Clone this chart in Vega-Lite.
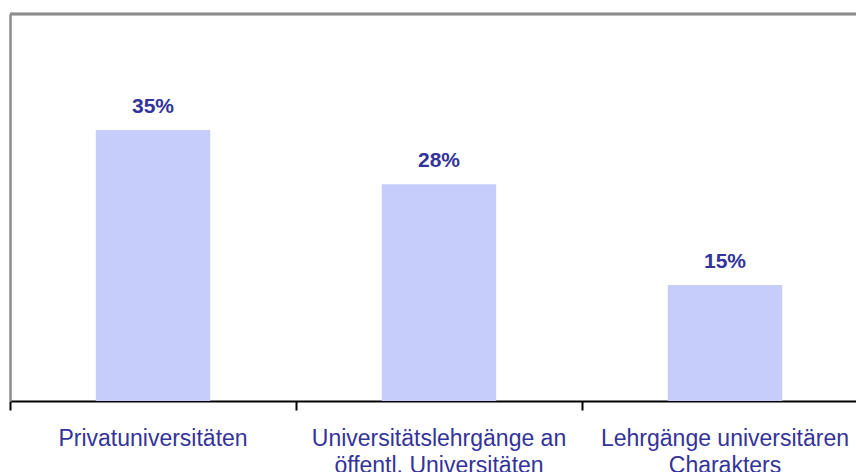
{
  "$schema": "https://vega.github.io/schema/vega-lite/v6.json",
  "width": 846,
  "height": 387,
  "autosize": "none",
  "padding": {"left": 10, "top": 14, "right": 0, "bottom": 71},
  "background": "white",
  "config": {"view": {"stroke": null}},
  "data": {"values": [
    {"kategorie": "Privatuniversitäten", "anteil": 0.35, "text": "35%"},
    {"kategorie": "Universitätslehrgänge an\nöffentl. Universitäten", "anteil": 0.28, "text": "28%"},
    {"kategorie": "Lehrgänge universitären\nCharakters", "anteil": 0.15, "text": "15%"}
  ]},
  "encoding": {
    "x": {
      "field": "kategorie", "type": "nominal", "sort": null, "title": null,
      "scale": {"range": [0, 858], "paddingInner": 0, "paddingOuter": 0},
      "axis": {
        "bandPosition": 0,
        "domainColor": "#000000", "domainWidth": 2,
        "tickColor": "#000000", "tickWidth": 2, "tickSize": 9,
        "labelAngle": 0, "labelFont": "Liberation Sans", "labelFontSize": 23,
        "labelColor": "#333399", "labelPadding": 17, "labelLineHeight": 27,
        "labelLimit": 0, "labelOverlap": false, "labelBound": false, "labelFlush": false,
        "labelExpr": "split(datum.label, '\\n')"
      }
    },
    "y": {
      "field": "anteil", "type": "quantitative", "title": null,
      "scale": {"domain": [0, 0.5], "nice": false, "zero": true},
      "axis": {"grid": false, "ticks": false, "labels": false, "domainColor": "#8c8c8c", "domainWidth": 2.5}
    }
  },
  "layer": [
    {"mark": {"type": "bar", "color": "#c6cdfb", "width": {"band": 0.4}}},
    {"mark": {"type": "text", "font": "Liberation Sans", "fontSize": 21, "fontWeight": "bold", "color": "#333399", "baseline": "alphabetic", "dy": -17},
     "encoding": {"text": {"field": "text"}}},
    {"mark": {"type": "rule", "color": "#8c8c8c", "strokeWidth": 2.5},
     "encoding": {"y": {"datum": 0.5}, "x": null}}
  ]
}
